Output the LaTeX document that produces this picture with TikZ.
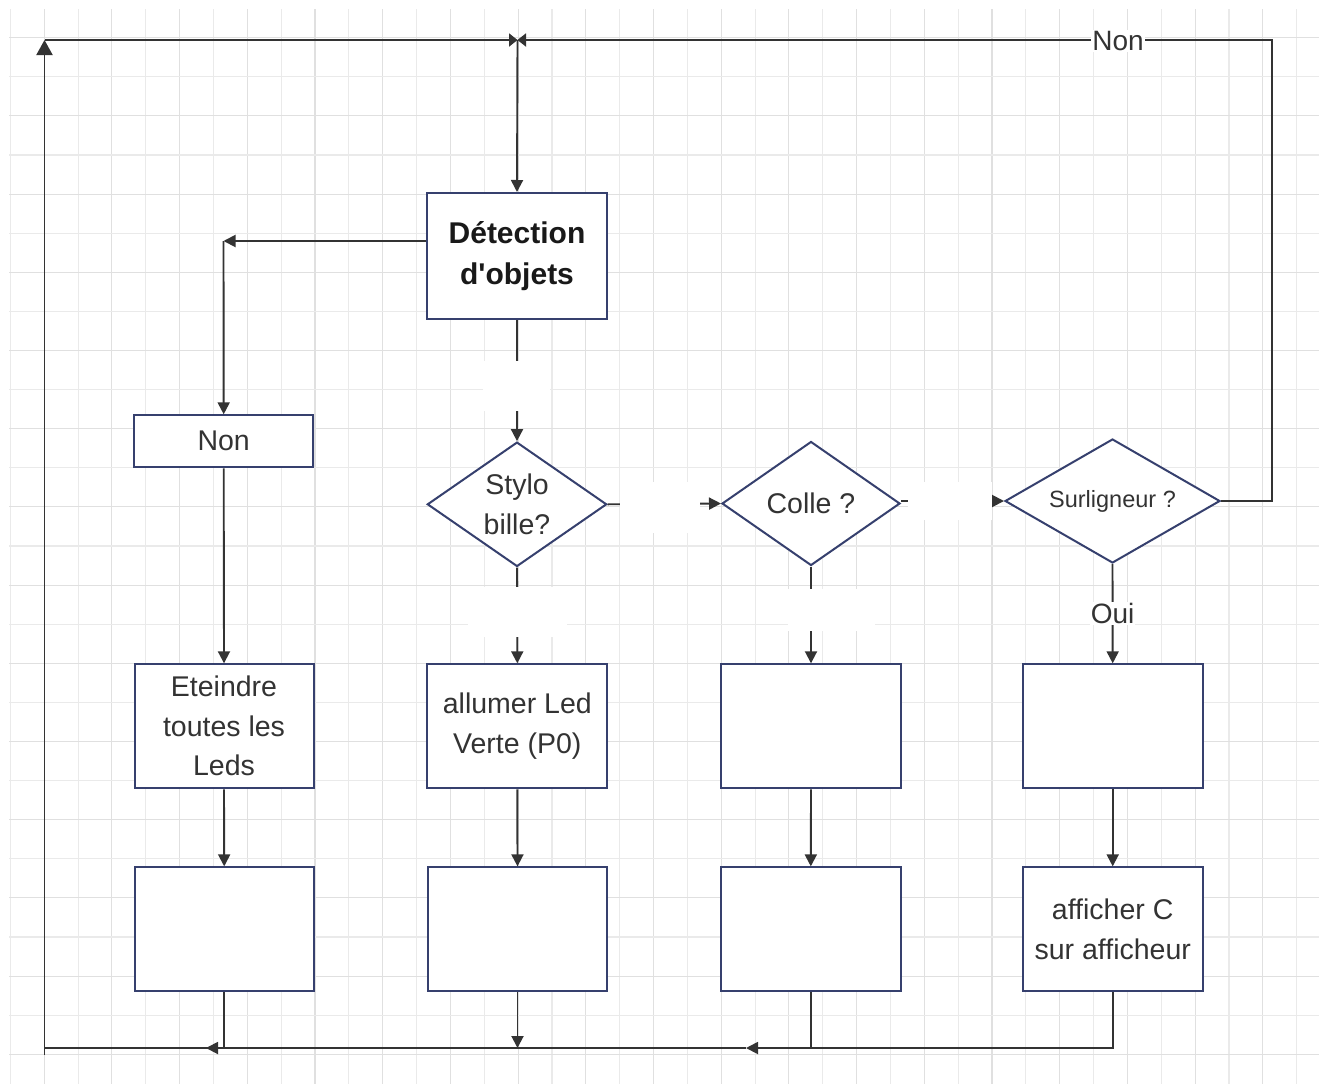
\documentclass[tikz,border=0pt]{standalone}
\usepackage{fontspec}
\setmainfont{Liberation Sans}
\usetikzlibrary{arrows.meta,shapes.geometric}
\definecolor{gridA}{HTML}{E0E0E0}
\definecolor{gridB}{HTML}{EAEAEA}
\definecolor{navy}{HTML}{36406E}
\definecolor{edgecol}{HTML}{333333}
\definecolor{txt}{HTML}{333333}
\begin{document}
\begin{tikzpicture}[x=1pt,y=-1pt,
  gridmaj/.style={draw=gridA,line width=1.1pt},
  gridmin/.style={draw=gridB,line width=1.1pt},
  box/.style={draw=navy,line width=2pt,fill=white,inner sep=0pt,text=txt,align=center,
    font=\fontsize{28.5}{39.5}\selectfont},
  dia/.style={diamond,shape aspect=1.5,draw=navy,line width=2pt,fill=white,inner sep=0pt,
    text=txt,align=center,font=\fontsize{28.5}{39.5}\selectfont},
  conn/.style={draw=edgecol,line width=1.9pt},
  arr/.style={conn,-{Triangle[length=12pt,width=12pt]}},
  halfarr/.style={conn,-{Triangle[length=8.5pt,width=13pt]}},
  bigarr/.style={conn,-{Triangle[length=15pt,width=16pt]}},
  lbl/.style={fill=white,inner sep=1pt,text=txt,font=\fontsize{28}{34}\selectfont},
  patch/.style={fill=white,draw=none,inner sep=0pt}
]
\useasboundingbox (0,0) rectangle (1319,1084);
\fill[white] (0,0) rectangle (1319,1084);
% grid
\foreach \k in {1,3,...,37} {\draw[gridmaj] ({10.35+33.85*\k},9) -- ({10.35+33.85*\k},1084);}
\foreach \k in {0,2,...,38} {\draw[gridmin] ({10.35+33.85*\k},9) -- ({10.35+33.85*\k},1084);}
\foreach \k in {0,2,...,26} {\draw[gridmaj] (9,{37.7+39.1*\k}) -- (1319,{37.7+39.1*\k});}
\foreach \k in {1,3,...,25} {\draw[gridmin] (9,{37.7+39.1*\k}) -- (1319,{37.7+39.1*\k});}

% nodes
\node[box,minimum width=180,minimum height=126,text=black!90,
  font=\fontsize{30}{41}\selectfont\bfseries] (det) at (517,256) {Détection\\d\textquotesingle objets};
\node[box,minimum width=179,minimum height=52] (non) at (223.7,441.3) {Non};
\node[dia,minimum width=179.4,minimum height=124.4] (sty) at (517,504.3) {Stylo\\bille?};
\node[dia,minimum width=178,minimum height=124] (col) at (811,503.5) {Colle ?};
\node[dia,minimum width=215,minimum height=124,font=\fontsize{23.5}{28}\selectfont] (sur) at (1112.5,501) {Surligneur ?};

\node[box,minimum width=179,minimum height=124] (b1a) at (224,726.3) {Eteindre\\toutes les\\Leds};
\node[box,minimum width=180,minimum height=124] (b2a) at (517.3,726.3) {allumer Led\\Verte (P0)};
\node[box,minimum width=180,minimum height=124] (b3a) at (811,726.3) {};
\node[box,minimum width=180,minimum height=124] (b4a) at (1112.7,726.3) {};

\node[box,minimum width=179,minimum height=123.7] (b1b) at (224.2,929.2) {};
\node[box,minimum width=179,minimum height=123.7] (b2b) at (517.5,929.2) {};
\node[box,minimum width=180,minimum height=123.7] (b3b) at (810.8,929.2) {};
\node[box,minimum width=180,minimum height=123.7] (b4b) at (1112.7,929.2) {afficher C\\sur afficheur};

% coordinates for the loop
\coordinate (tl) at (44.5,40);
\coordinate (tm) at (517.5,40);
\coordinate (tr) at (1272,40);
\coordinate (bl) at (44.5,1048);
\coordinate (bx1) at (206,1048);
\coordinate (bx2) at (517.5,1048);
\coordinate (bx3) at (746,1048);
\coordinate (c1) at (223.5,241);

% connectors
\draw[conn] (44.5,1055) -- (bl);
\draw[bigarr] (bx3) -- (bl) -- (tl);
\draw[halfarr] (tl) -- (tm);
\draw[halfarr] (sur.east) -| (tr) -- node[lbl,pos=0.204,yshift=-1pt] (nonlbl) {Non} (tm);
\draw[arr] (tm) -- (det.north);

\draw[arr] ([yshift=15pt]det.west) -- (c1);
\draw[arr] (c1) -- (non.north);
\draw[arr] (non.south) -- (b1a.north);

\draw[arr] (det.south) -- (sty.north);
\draw[arr] (sty.east) -- (col.west);
\draw[arr] (col.east |- sur.west) -- (sur.west);

\draw[arr] (sty.south) -- (b2a.north);
\draw[arr] (col.south) -- (b3a.north);
\draw[arr] (sur.south) -- node[lbl] (ouilbl) {Oui} (b4a.north);

\draw[arr] (b1a.south) -- (b1b.north);
\draw[arr] (b2a.south) -- (b2b.north);
\draw[arr] (b3a.south) -- (b3b.north);
\draw[arr] (b4a.south) -- (b4b.north);

\draw[arr] (b1b.south) |- (bx1);
\draw[arr] (b2b.south) -- (bx2);
\draw[conn] (b3b.south) -- (b3b.south |- bl);
\draw[arr] (b4b.south) |- (bx3);

% empty white edge labels
\node[patch,minimum width=67,minimum height=50] (p1) at (516.5,386) {};
\node[patch,minimum width=80,minimum height=51] (p2) at (660,507.5) {};
\node[patch,minimum width=84,minimum height=38] (p3) at (950,501) {};
\node[patch,minimum width=99,minimum height=50] (p4) at (517.5,612) {};
\node[patch,minimum width=87,minimum height=42] (p5) at (831.5,610) {};
\end{tikzpicture}
\end{document}
